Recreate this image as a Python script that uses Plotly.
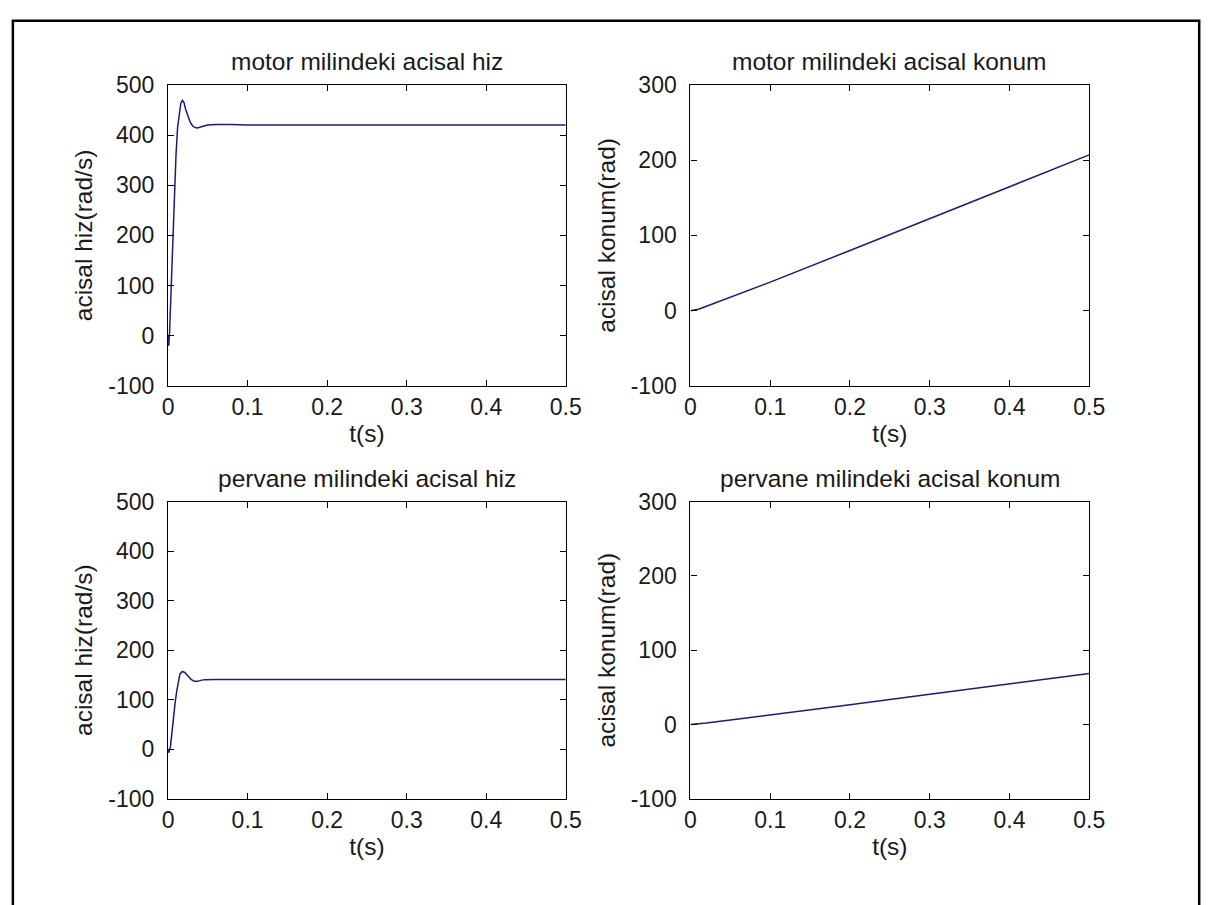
import plotly.graph_objects as go

# ---------------- data ----------------
t_motor_speed = [0, 0.001, 0.002, 0.004, 0.006, 0.008, 0.010, 0.012, 0.014, 0.016,
                 0.018, 0.020, 0.022, 0.025, 0.028, 0.031, 0.034, 0.037, 0.040,
                 0.045, 0.050, 0.060, 0.080, 0.100, 0.200, 0.300, 0.400, 0.500]
motor_speed = [0, -20, 10, 100, 200, 290, 360, 415, 445, 463,
               469, 465, 452, 437, 425, 418, 415, 414, 415,
               418, 420, 421, 421, 420, 420, 420, 420, 420]

t_motor_pos = [0, 0.01, 0.02, 0.05, 0.1, 0.2, 0.3, 0.4, 0.5]
motor_pos = [0, 2, 6, 18, 38, 80, 122, 164, 207]

t_prop_speed = [0, 0.001, 0.003, 0.005, 0.007, 0.009, 0.011, 0.013, 0.015, 0.018,
                0.021, 0.025, 0.029, 0.033, 0.037, 0.041, 0.046, 0.060, 0.100,
                0.200, 0.300, 0.400, 0.500]
prop_speed = [0, -7, 5, 40, 70, 95, 118, 140, 152, 157,
              155, 148, 141, 137, 137, 139, 140.5, 141, 141,
              141, 141, 141, 141]

t_prop_pos = [0, 0.01, 0.02, 0.05, 0.1, 0.2, 0.3, 0.4, 0.5]
prop_pos = [0, 0.7, 2, 6, 12.5, 26.5, 40.5, 54.5, 68.5]

x_tickvals = [0, 0.1, 0.2, 0.3, 0.4, 0.5]
x_ticktext = ["0", "0.1", "0.2", "0.3", "0.4", "0.5"]
speed_tickvals = [-100, 0, 100, 200, 300, 400, 500]
speed_ticktext = ["-100", "0", "100", "200", "300", "400", "500"]
pos_tickvals = [-100, 0, 100, 200, 300]
pos_ticktext = ["-100", "0", "100", "200", "300"]

titles = ["motor milindeki acisal hiz", "motor milindeki acisal konum",
          "pervane milindeki acisal hiz", "pervane milindeki acisal konum"]
xlabel = "t(s)"
ylabel_speed = "acisal hiz(rad/s)"
ylabel_pos = "acisal konum(rad)"

# ---------------- layout ----------------
W, H = 1226, 905
FONT = "Liberation Sans, Arial, sans-serif"
TXT = "#1a1a1a"
LINE = "#1c1c78"
TICK_SIZE = 23
TITLE_SIZE = 24.5

def fx(p):
    return p / W

def fy(p):
    return 1 - p / H

x_left = [fx(165), fx(570)]
x_right = [fx(697), fx(1103)]
y_top = [fy(384), fy(74)]
y_bot = [fy(809), fy(503)]

fig = go.Figure()
series = [
    (t_motor_speed, motor_speed, "x", "y"),
    (t_motor_pos, motor_pos, "x2", "y2"),
    (t_prop_speed, prop_speed, "x3", "y3"),
    (t_prop_pos, prop_pos, "x4", "y4"),
]
for xs, ys, xa, ya in series:
    fig.add_trace(go.Scatter(x=xs, y=ys, mode="lines", xaxis=xa, yaxis=ya,
                             line=dict(color=LINE, width=1.5), hoverinfo="skip"))

def xaxis(domain, anchor):
    return dict(domain=domain, anchor=anchor, range=[0, 0.5],
                tickmode="array", tickvals=x_tickvals, ticktext=x_ticktext,
                ticks="inside", ticklen=6, tickcolor="black", tickwidth=1,
                showline=True, linecolor="black", linewidth=1.3, mirror="ticks",
                showgrid=False, zeroline=False, ticklabelstandoff=0,
                tickfont=dict(family=FONT, size=TICK_SIZE, color=TXT),
                title=dict(text=xlabel, font=dict(family=FONT, size=TITLE_SIZE, color=TXT),
                           standoff=6))

def yaxis(domain, anchor, rng, tv, tt, label):
    return dict(domain=domain, anchor=anchor, range=rng,
                tickmode="array", tickvals=tv, ticktext=tt,
                ticks="inside", ticklen=6, tickcolor="black", tickwidth=1,
                showline=True, linecolor="black", linewidth=1.3, mirror="ticks",
                showgrid=False, zeroline=False, ticklabelstandoff=8,
                tickfont=dict(family=FONT, size=TICK_SIZE, color=TXT),
                title=dict(text=label, font=dict(family=FONT, size=TITLE_SIZE, color=TXT),
                           standoff=8))

fig.update_layout(
    width=W, height=H, margin=dict(l=0, r=0, t=0, b=0),
    paper_bgcolor="white", plot_bgcolor="white", showlegend=False,
    xaxis=xaxis(x_left, "y"),
    yaxis=yaxis(y_top, "x", [-100, 500], speed_tickvals, speed_ticktext, ylabel_speed),
    xaxis2=xaxis(x_right, "y2"),
    yaxis2=yaxis(y_top, "x2", [-100, 300], pos_tickvals, pos_ticktext, ylabel_pos),
    xaxis3=xaxis(x_left, "y3"),
    yaxis3=yaxis(y_bot, "x3", [-100, 500], speed_tickvals, speed_ticktext, ylabel_speed),
    xaxis4=xaxis(x_right, "y4"),
    yaxis4=yaxis(y_bot, "x4", [-100, 300], pos_tickvals, pos_ticktext, ylabel_pos),
)

doms = [(x_left, y_top), (x_right, y_top), (x_left, y_bot), (x_right, y_bot)]
for text, (xd, yd) in zip(titles, doms):
    fig.add_annotation(text=text, xref="paper", yref="paper",
                       x=(xd[0] + xd[1]) / 2, y=yd[1], xanchor="center",
                       yanchor="bottom", yshift=8, showarrow=False,
                       font=dict(family=FONT, size=TITLE_SIZE, color=TXT))

# outer figure border
fig.add_shape(type="rect", xref="paper", yref="paper",
              x0=fx(7), x1=fx(1215), y0=fy(8), y1=fy(930),
              line=dict(color="black", width=2.5), fillcolor="rgba(0,0,0,0)")

fig.write_html("out.html",
               post_script="document.body.style.margin='0';"
                           "document.body.style.overflow='hidden';")
